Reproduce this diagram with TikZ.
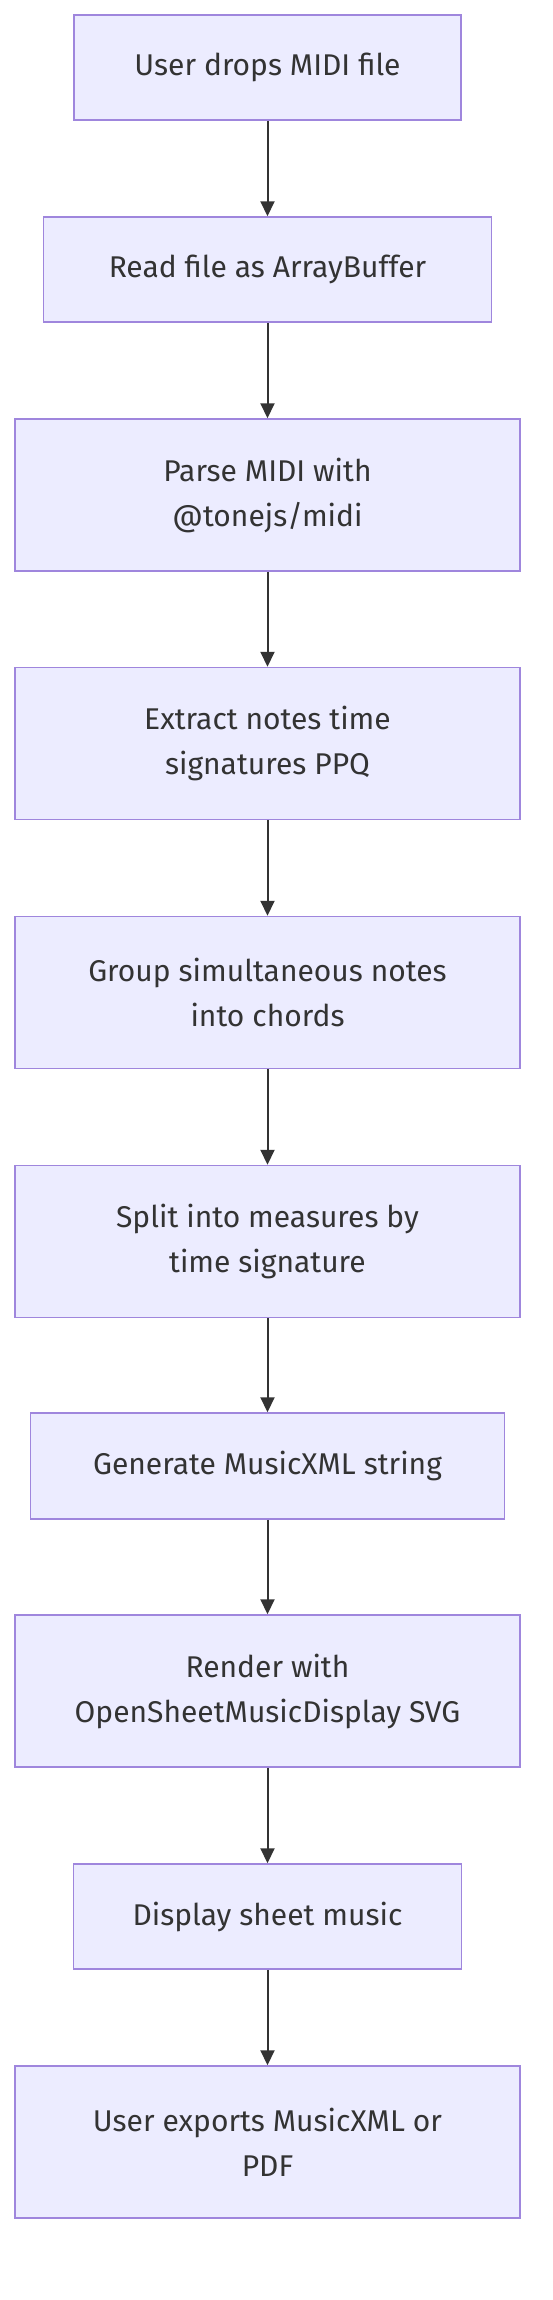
\documentclass[tikz,border=0pt]{standalone}
\usepackage{fontspec}
\setmainfont{Fira Sans}
\usetikzlibrary{arrows.meta}
\definecolor{boxfill}{HTML}{ECECFF}
\definecolor{boxline}{HTML}{9F86DD}
\definecolor{ink}{HTML}{333333}
\begin{document}
\begin{tikzpicture}[x=1pt,y=-1pt,
  box/.style={draw=boxline, fill=boxfill, line width=1.5pt, inner sep=0pt,
    align=center, text=ink, font=\fontsize{30}{45}\selectfont},
  wide/.style={box, minimum width=505pt, minimum height=152pt},
  arr/.style={draw=ink, line width=2pt, -{Triangle[length=15pt,width=14pt]}}]
\useasboundingbox (0,0) rectangle (552,2300);
\fill[white] (0,0) rectangle (552,2300);
\node[box, minimum width=387pt, minimum height=105pt] (n1) at (267.5,67.5) {User drops MIDI file};
\node[box, minimum width=448pt, minimum height=105pt] (n2) at (267.5,269.5) {Read file as ArrayBuffer};
\node[wide] (n3) at (267.5,495) {Parse MIDI with\\ @tonejs/midi};
\node[wide] (n4) at (267.5,743.5) {Extract notes time\\ signatures PPQ};
\node[wide] (n5) at (267.5,992.5) {Group simultaneous notes\\ into chords};
\node[wide] (n6) at (267.5,1241.5) {Split into measures by\\ time signature};
\node[box, minimum width=474pt, minimum height=106pt] (n7) at (267.5,1466) {Generate MusicXML string};
\node[wide] (n8) at (267.5,1691) {Render with\\ OpenSheetMusicDisplay SVG};
\node[box, minimum width=388pt, minimum height=105pt] (n9) at (267.5,1916.5) {Display sheet music};
\node[wide] (n10) at (267.5,2142) {User exports MusicXML or\\ PDF};
\foreach \a/\b in {n1/n2,n2/n3,n3/n4,n4/n5,n5/n6,n6/n7,n7/n8,n8/n9,n9/n10}
  \draw[arr] (\a.south) -- (\b.north);
\end{tikzpicture}
\end{document}
